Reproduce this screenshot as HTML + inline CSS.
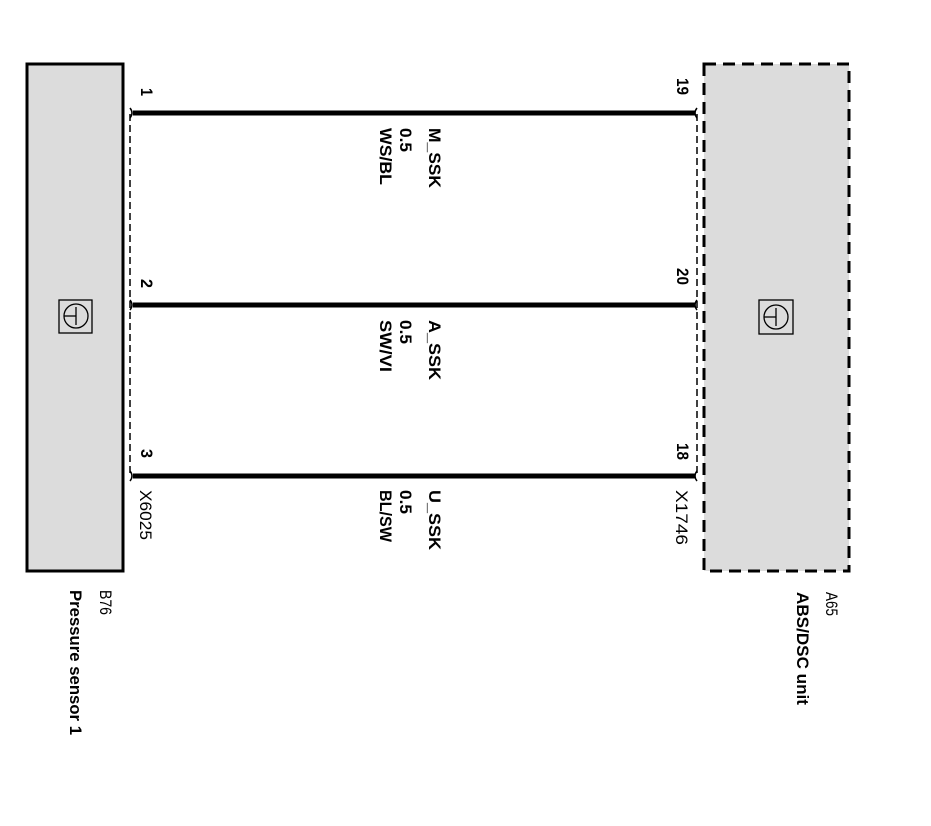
<!DOCTYPE html>
<html><head><meta charset="utf-8"><style>html,body{margin:0;padding:0;background:#fff}svg{display:block}text{font-family:"Liberation Sans",sans-serif;font-size:17px;fill:#000}</style></head><body>
<svg width="931" height="826" viewBox="0 0 931 826" xmlns="http://www.w3.org/2000/svg">
<rect x="27" y="64" width="96" height="507" fill="#dcdcdc" stroke="#000" stroke-width="3"/>
<rect x="704" y="64" width="145" height="507" fill="#dcdcdc" stroke="#000" stroke-width="3" stroke-dasharray="12,7"/>
<line x1="130" y1="114" x2="130" y2="474" stroke="#000" stroke-width="1.5" stroke-dasharray="7,4"/>
<line x1="697" y1="114" x2="697" y2="474" stroke="#000" stroke-width="1.5" stroke-dasharray="7,4"/>
<g stroke="#000" stroke-width="5">
<line x1="133" y1="113" x2="695" y2="113"/>
<line x1="133" y1="305" x2="695" y2="305"/>
<line x1="133" y1="476" x2="695" y2="476"/>
</g>
<g fill="none" stroke="#000" stroke-width="1.5">
<path d="M130 108 q4 5 0 10"/><path d="M130 300 q4 5 0 10"/><path d="M130 471 q4 5 0 10"/>
<path d="M697 108 q-4 5 0 10"/><path d="M697 300 q-4 5 0 10"/><path d="M697 471 q-4 5 0 10"/>
</g>
<g fill="none" stroke="#000" stroke-width="1.3">
<rect x="59" y="300" width="33" height="33"/><circle cx="76" cy="316" r="12"/><line x1="64" y1="316" x2="76" y2="316"/><line x1="76" y1="307" x2="76" y2="325"/>
<rect x="759" y="300" width="34" height="34"/><circle cx="776" cy="317" r="12"/><line x1="764" y1="317" x2="776" y2="317"/><line x1="776" y1="308" x2="776" y2="326"/>
</g>
<g font-weight="bold">
<text transform="translate(141,88) rotate(90)" lengthAdjust="spacingAndGlyphs" textLength="8">1</text>
<text transform="translate(141,279) rotate(90)" lengthAdjust="spacingAndGlyphs" textLength="9">2</text>
<text transform="translate(141,449) rotate(90)" lengthAdjust="spacingAndGlyphs" textLength="9">3</text>
<text transform="translate(677,78) rotate(90)" lengthAdjust="spacingAndGlyphs" textLength="17">19</text>
<text transform="translate(677,268) rotate(90)" lengthAdjust="spacingAndGlyphs" textLength="17">20</text>
<text transform="translate(677,443) rotate(90)" lengthAdjust="spacingAndGlyphs" textLength="17">18</text>
<text transform="translate(429,128) rotate(90)" lengthAdjust="spacingAndGlyphs" textLength="60">M_SSK</text>
<text transform="translate(400,128) rotate(90)" lengthAdjust="spacingAndGlyphs" textLength="24">0.5</text>
<text transform="translate(380,128) rotate(90)" lengthAdjust="spacingAndGlyphs" textLength="57">WS/BL</text>
<text transform="translate(429,320) rotate(90)" lengthAdjust="spacingAndGlyphs" textLength="60">A_SSK</text>
<text transform="translate(400,320) rotate(90)" lengthAdjust="spacingAndGlyphs" textLength="24">0.5</text>
<text transform="translate(380,320) rotate(90)" lengthAdjust="spacingAndGlyphs" textLength="52">SW/VI</text>
<text transform="translate(429,490) rotate(90)" lengthAdjust="spacingAndGlyphs" textLength="60">U_SSK</text>
<text transform="translate(400,490) rotate(90)" lengthAdjust="spacingAndGlyphs" textLength="24">0.5</text>
<text transform="translate(380,490) rotate(90)" lengthAdjust="spacingAndGlyphs" textLength="52">BL/SW</text>
<text transform="translate(70,590) rotate(90)" lengthAdjust="spacingAndGlyphs" textLength="145">Pressure sensor 1</text>
<text transform="translate(797,592) rotate(90)" lengthAdjust="spacingAndGlyphs" textLength="113">ABS/DSC unit</text>
</g>
<text transform="translate(140,490) rotate(90)" lengthAdjust="spacingAndGlyphs" textLength="50">X6025</text>
<text transform="translate(676,490) rotate(90)" lengthAdjust="spacingAndGlyphs" textLength="55">X1746</text>
<text transform="translate(100,590) rotate(90)" lengthAdjust="spacingAndGlyphs" textLength="25">B76</text>
<text transform="translate(826,592) rotate(90)" lengthAdjust="spacingAndGlyphs" textLength="24">A65</text>
</svg>
</body></html>
